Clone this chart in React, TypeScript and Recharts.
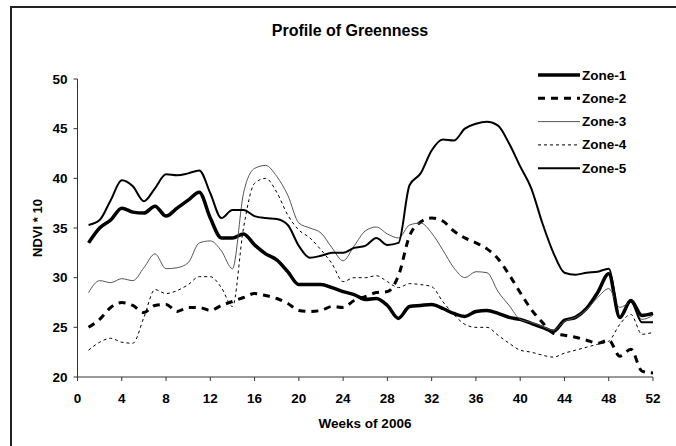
import React from "react";
import { LineChart, Line, XAxis, YAxis } from "recharts";

const weeks = Array.from({ length: 52 }, (_, i) => i + 1);

const zone1 = [
  33.5, 35.0, 35.8, 37.0, 36.6, 36.5, 37.2, 36.2, 37.0, 37.8, 38.6, 36.0, 34.0,
  34.0, 34.4, 33.3, 32.4, 31.8, 30.6, 29.3, 29.3, 29.3, 29.0, 28.6, 28.3, 27.8,
  27.9, 27.2, 25.9, 27.1, 27.2, 27.3, 26.9, 26.4, 26.1, 26.6, 26.7, 26.4, 26.0,
  25.8, 25.4, 25.0, 24.6, 25.7, 26.0, 26.9, 28.5, 30.4, 26.0, 27.7, 26.2, 26.4,
];
const zone2 = [
  25.0, 25.8, 27.0, 27.5, 27.2, 26.5, 27.2, 27.3, 26.6, 27.0, 27.0, 26.7, 27.2,
  27.6, 28.0, 28.4, 28.2, 27.9, 27.4, 26.7, 26.6, 26.7, 27.1, 27.0, 27.7, 28.1,
  28.5, 28.6, 30.2, 34.2, 35.6, 36.0, 35.7, 34.7, 34.0, 33.5, 32.9, 31.9, 30.3,
  28.5, 26.8, 25.5, 24.4, 24.2, 24.0, 23.7, 23.4, 23.7, 22.1, 22.8, 20.6, 20.4,
];
const zone3 = [
  28.5, 29.7, 29.5, 29.9, 29.7, 31.0, 32.4, 30.9, 31.0, 31.5, 33.5, 33.7, 32.7,
  30.9, 38.5, 41.0, 41.3, 40.2, 38.3, 35.5, 35.0, 34.5, 33.0, 31.7, 33.2, 34.7,
  35.1, 34.4, 34.0, 35.3, 35.5, 34.5, 32.8, 31.0, 30.0, 30.6, 30.5, 28.6, 27.2,
  25.8, 25.5, 25.1, 24.7, 25.6, 26.0, 26.8, 28.0, 28.9, 27.0, 27.5, 25.8, 26.2,
];
const zone4 = [
  22.7, 23.5, 23.9, 23.5, 23.4, 26.0, 28.8, 28.4, 28.7, 29.3, 30.1, 30.1, 29.0,
  27.1, 35.0, 39.5, 40.0, 38.6, 36.3, 34.8, 34.0, 32.8, 31.4, 29.6, 30.0, 30.0,
  30.2, 29.6, 29.0, 29.4, 29.3, 29.1, 27.6, 26.3, 25.3, 25.0, 25.0, 24.2, 23.4,
  22.7, 22.5, 22.2, 22.0, 22.4, 22.7, 23.0, 23.3, 23.6, 25.3, 26.3, 24.3, 24.5,
];
const zone5 = [
  35.3, 35.8, 37.8, 39.8, 39.2, 37.7, 39.0, 40.4, 40.3, 40.5, 40.8, 38.5, 36.0,
  36.8, 36.8, 36.2, 36.0, 35.9, 35.3, 33.2, 32.0, 32.2, 32.5, 32.5, 33.0, 33.2,
  34.0, 33.3, 33.5, 39.3, 40.5, 42.8, 43.9, 43.8, 45.0, 45.5, 45.7, 45.3, 43.5,
  41.2, 39.0, 35.5, 32.5, 30.5, 30.3, 30.5, 30.6, 30.9, 26.0, 27.6, 25.5, 25.5,
];

const xTicks = [0, 4, 8, 12, 16, 20, 24, 28, 32, 36, 40, 44, 48, 52];
const yTicks = [20, 25, 30, 35, 40, 45, 50];

const series = [
  { key: "zone1", name: "Zone-1", color: "#000", width: 3.5, dash: undefined },
  { key: "zone2", name: "Zone-2", color: "#000", width: 3, dash: "7 6" },
  { key: "zone3", name: "Zone-3", color: "#555", width: 1, dash: undefined },
  { key: "zone4", name: "Zone-4", color: "#000", width: 1, dash: "3 3" },
  { key: "zone5", name: "Zone-5", color: "#000", width: 2, dash: undefined },
];

const data = weeks.map((w, i) => ({
  week: w,
  zone1: zone1[i],
  zone2: zone2[i],
  zone3: zone3[i],
  zone4: zone4[i],
  zone5: zone5[i],
}));

const font = "Arial, 'Liberation Sans', sans-serif";
const tickStyle = { fill: "#000", fontSize: 13.5, fontWeight: "bold", fontFamily: font };

export default function App() {
  return (
    <div style={{ position: "absolute", left: 0, top: 0, width: 676, height: 446, background: "#fff", fontFamily: font }}>
      <div style={{ position: "absolute", left: 10, top: 6, right: 0, bottom: 0, borderTop: "2px solid #222", borderLeft: "2px solid #222" }} />
      <div style={{ position: "absolute", left: 0, width: 700, top: 22, textAlign: "center", fontSize: 16, fontWeight: "bold" }}>
        Profile of Greenness
      </div>
      <div style={{ position: "absolute", left: 37, top: 228, transform: "translate(-50%, -50%) rotate(-90deg)", fontSize: 13, fontWeight: "bold", whiteSpace: "nowrap" }}>
        NDVI * 10
      </div>
      <div style={{ position: "absolute", left: 365, top: 423, transform: "translate(-50%, -50%)", fontSize: 13.5, fontWeight: "bold", whiteSpace: "nowrap" }}>
        Weeks of 2006
      </div>
      <svg style={{ position: "absolute", left: 0, top: 0 }} width={676} height={446}>
        {series.map((s, i) => {
          const y = 75 + i * 23.3;
          return (
            <g key={s.key}>
              <line x1={538} x2={580} y1={y} y2={y} stroke={s.color} strokeWidth={s.width} strokeDasharray={s.dash} />
              <text x={582} y={y + 4.5} fontSize={13.5} fontWeight="bold" fontFamily={font} fill="#000">
                {s.name}
              </text>
            </g>
          );
        })}
      </svg>
      <div style={{ position: "absolute", left: 0, top: 0 }}>
        <LineChart width={676} height={446} data={data} margin={{ top: 79, right: 23, bottom: 39, left: 7 }}>
          <XAxis
            dataKey="week"
            type="number"
            domain={[0, 52]}
            ticks={xTicks}
            interval={0}
            height={30}
            stroke="#333"
            tickSize={4}
            tick={tickStyle}
            tickMargin={12}
          />
          <YAxis
            type="number"
            domain={[20, 50]}
            ticks={yTicks}
            interval={0}
            width={70.5}
            stroke="#333"
            tickSize={4}
            tick={tickStyle}
            tickMargin={6}
          />
          {series.map((s) => (
            <Line
              key={s.key}
              type="monotone"
              dataKey={s.key}
              stroke={s.color}
              strokeWidth={s.width}
              strokeDasharray={s.dash}
              dot={false}
              isAnimationActive={false}
            />
          ))}
        </LineChart>
      </div>
    </div>
  );
}
